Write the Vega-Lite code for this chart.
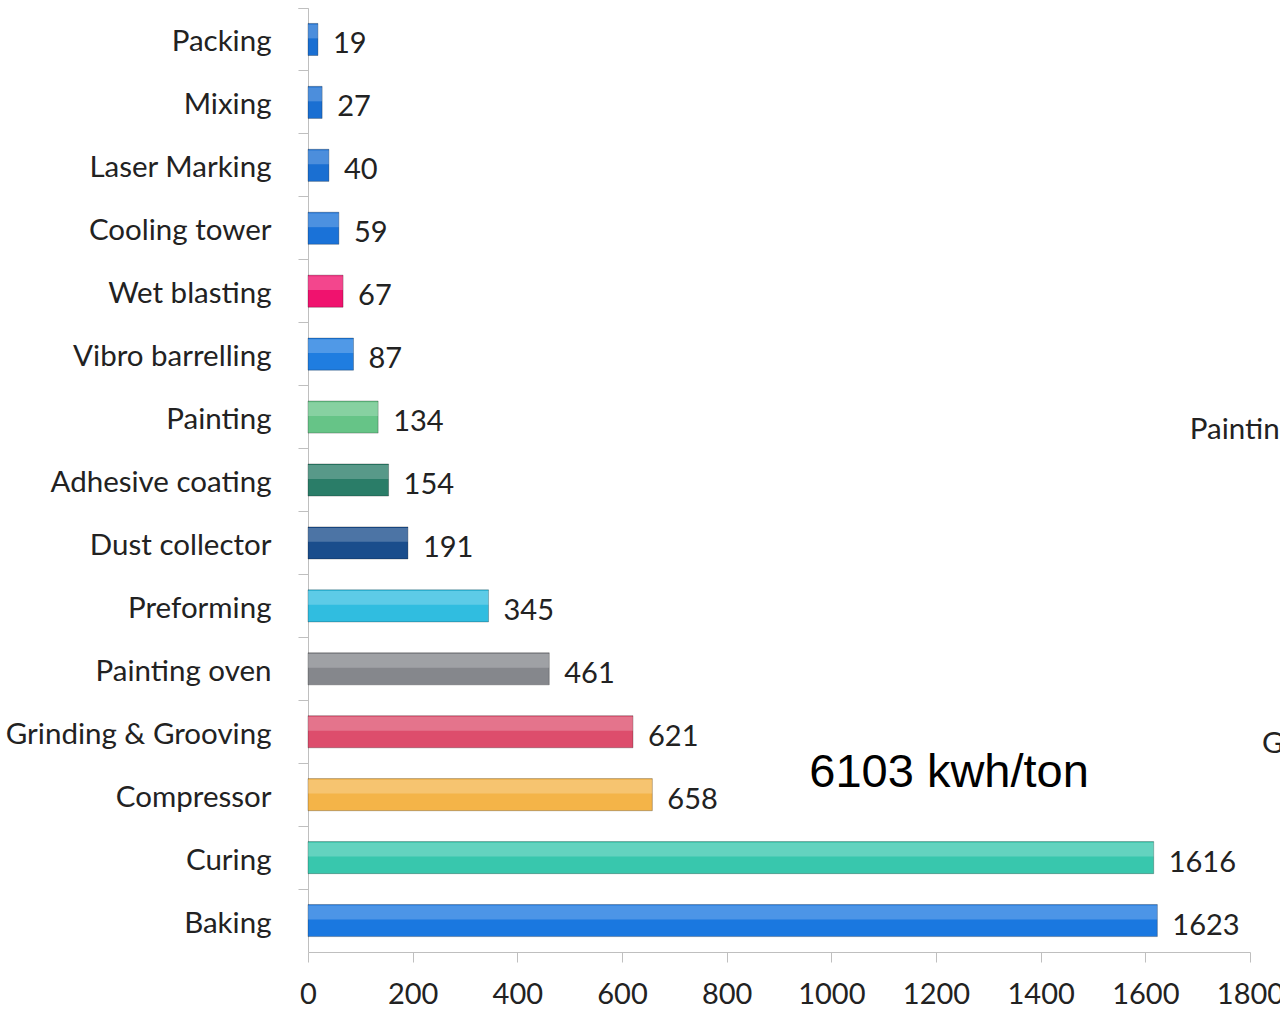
{
  "$schema": "https://vega.github.io/schema/vega-lite/v6.json",
  "autosize": {"type": "none"},
  "width": 942,
  "height": 944,
  "padding": {"left": 308, "top": 8, "right": 30, "bottom": 57},
  "background": "white",
  "config": {"view": {"stroke": null}},
  "data": {
    "values": [
      {"process": "Packing", "kwh": 19},
      {"process": "Mixing", "kwh": 27},
      {"process": "Laser Marking", "kwh": 40},
      {"process": "Cooling tower", "kwh": 59},
      {"process": "Wet blasting", "kwh": 67},
      {"process": "Vibro barrelling", "kwh": 87},
      {"process": "Painting", "kwh": 134},
      {"process": "Adhesive coating", "kwh": 154},
      {"process": "Dust collector", "kwh": 191},
      {"process": "Preforming", "kwh": 345},
      {"process": "Painting oven", "kwh": 461},
      {"process": "Grinding & Grooving", "kwh": 621},
      {"process": "Compressor", "kwh": 658},
      {"process": "Curing", "kwh": 1616},
      {"process": "Baking", "kwh": 1623}
    ]
  },
  "encoding": {
    "y": {
      "field": "process",
      "type": "nominal",
      "sort": null,
      "scale": {"paddingInner": 0, "paddingOuter": 0},
      "axis": {
        "title": null,
        "labelFont": "Lato",
        "labelFontSize": 29.5,
        "labelColor": "#222222",
        "labelPadding": 27,
        "labelOffset": 3,
        "labelLimit": 400,
        "bandPosition": 0,
        "tickExtra": true,
        "tickSize": 10,
        "tickColor": "#bfbfbf",
        "domainColor": "#bfbfbf",
        "ticks": true
      }
    }
  },
  "layer": [
    {
      "mark": {"type": "bar", "height": {"band": 0.51}, "stroke": "#000000", "strokeOpacity": 0.25, "strokeWidth": 1},
      "encoding": {
        "x": {
          "field": "kwh",
          "type": "quantitative",
          "scale": {"domain": [0, 1800], "nice": false},
          "axis": {
            "title": null,
            "values": [0, 200, 400, 600, 800, 1000, 1200, 1400, 1600, 1800],
            "format": "d",
            "grid": false,
            "labelFont": "Lato",
            "labelFontSize": 29,
            "labelColor": "#222222",
            "labelPadding": 18,
            "tickSize": 10,
            "tickColor": "#bfbfbf",
            "domainColor": "#bfbfbf",
            "labelFlush": false
          }
        },
        "color": {
          "field": "process",
          "type": "nominal",
          "legend": null,
          "scale": {
            "domain": ["Packing", "Mixing", "Laser Marking", "Cooling tower", "Wet blasting", "Vibro barrelling", "Painting", "Adhesive coating", "Dust collector", "Preforming", "Painting oven", "Grinding & Grooving", "Compressor", "Curing", "Baking"],
            "range": ["#1a6fd2", "#1a6fd2", "#1a6fd2", "#1a72d8", "#f0126e", "#1f7de0", "#66c487", "#2a7d68", "#1a4d8c", "#30bde0", "#85878c", "#dd4d6c", "#f4b448", "#38c7ad", "#1a78e0"]
          }
        }
      }
    },
    {
      "mark": {"type": "bar", "height": {"band": 0.22}, "yOffset": -8, "fill": "#ffffff", "opacity": 0.22},
      "encoding": {
        "x": {"field": "kwh", "type": "quantitative"}
      }
    },
    {
      "mark": {"type": "text", "align": "left", "baseline": "middle", "dx": 15, "dy": 5, "font": "Lato", "fontSize": 29, "color": "#222222"},
      "encoding": {
        "x": {"field": "kwh", "type": "quantitative"},
        "text": {"field": "kwh", "type": "quantitative"}
      }
    },
    {
      "data": {"values": [{}]},
      "mark": {"type": "text", "text": "6103 kwh/ton", "align": "center", "baseline": "alphabetic", "dy": -8, "font": "Liberation Sans", "fontSize": 47, "color": "#000000"},
      "encoding": {
        "x": {"datum": 1225},
        "y": {"datum": "Compressor"}
      }
    },
    {
      "data": {"values": [{}]},
      "mark": {"type": "text", "text": "Painting", "align": "left", "baseline": "middle", "dy": 13, "font": "Lato", "fontSize": 29.5, "color": "#222222"},
      "encoding": {
        "x": {"datum": 1685},
        "y": {"datum": "Painting"}
      }
    },
    {
      "data": {"values": [{}]},
      "mark": {"type": "text", "text": "Grinding & Grooving", "align": "left", "baseline": "middle", "dy": 12, "font": "Lato", "fontSize": 29.5, "color": "#222222"},
      "encoding": {
        "x": {"datum": 1823},
        "y": {"datum": "Grinding & Grooving"}
      }
    }
  ]
}
